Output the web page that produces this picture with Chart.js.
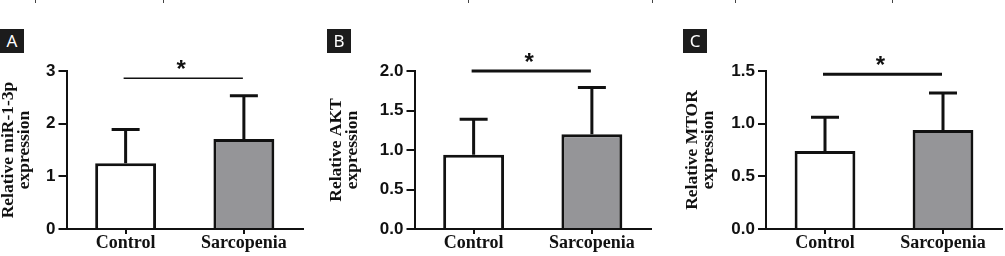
<!DOCTYPE html>
<html>
<head>
<meta charset="utf-8">
<script src="https://cdn.jsdelivr.net/npm/chart.js@4.4.0/dist/chart.umd.min.js"></script>
<style>
body { margin: 0; background: #fff; width: 1005px; height: 256px; overflow: hidden; position: relative; }
canvas { position: absolute; top: 0; }
.tag { position: absolute; top: 29px; width: 24px; height: 24px; background: #1c1c1c; color: #fff;
       font: 17px "Noto Sans", sans-serif; text-align: center; line-height: 24px; }
.mark { position: absolute; top: 0; width: 1px; height: 3px; background: #444; }
</style>
</head>
<body>
<div class="mark" style="left:35px"></div>
<div class="mark" style="left:163px"></div>
<div class="mark" style="left:468px"></div>
<div class="mark" style="left:652px"></div>
<div class="mark" style="left:735px"></div>
<div class="mark" style="left:892px"></div>

<canvas id="panelA" width="330" height="256" style="left:0px"></canvas>
<canvas id="panelB" width="345" height="256" style="left:320px"></canvas>
<canvas id="panelC" width="340" height="256" style="left:665px"></canvas>

<div class="tag" style="left:0px">A</div>
<div class="tag" style="left:327px">B</div>
<div class="tag" style="left:683px">C</div>

<script>
const categories = ['Control', 'Sarcopenia'];

// bar heights (mean) and error bar tops (mean + SD)
const mirMeans = [1.25, 1.71];
const mirErrTops = [1.89, 2.53];
const aktMeans = [0.94, 1.20];
const aktErrTops = [1.39, 1.79];
const mtorMeans = [0.74, 0.94];
const mtorErrTops = [1.06, 1.29];

// y axis ticks
const mirTicks = [0, 1, 2, 3];
const aktTicks = [0, 0.5, 1.0, 1.5, 2.0];
const mtorTicks = [0, 0.5, 1.0, 1.5];

// height of the significance bracket in each panel
const sigLevels = [2.86, 2.0, 1.47];

const barFill = ['#ffffff', '#959598'];
const serif = '"Liberation Serif", "Times New Roman", serif';
const sans = '"Liberation Sans", Arial, sans-serif';

const errorBars = {
    id: 'errorBars',
    afterDatasetsDraw(chart, args, opts) {
        const {ctx, scales: {x, y}} = chart;
        const meta = chart.getDatasetMeta(0);
        ctx.save();
        ctx.strokeStyle = '#111';
        ctx.lineWidth = 3;
        meta.data.forEach((bar, i) => {
            const top = y.getPixelForValue(opts.tops[i]);
            ctx.beginPath();
            ctx.moveTo(bar.x, bar.y);
            ctx.lineTo(bar.x, top);
            ctx.moveTo(bar.x - 14, top);
            ctx.lineTo(bar.x + 14, top);
            ctx.stroke();
        });
        // significance line + star
        const ly = y.getPixelForValue(opts.sig);
        const x0 = x.getPixelForValue(0) - 2;
        const x1 = x.getPixelForValue(1) - 1;
        ctx.lineWidth = opts.sigWidth;
        ctx.beginPath();
        ctx.moveTo(x0, ly);
        ctx.lineTo(x1, ly);
        ctx.stroke();
        ctx.fillStyle = '#111';
        ctx.font = 'bold 24px ' + sans;
        ctx.textAlign = 'center';
        ctx.textBaseline = 'alphabetic';
        ctx.fillText('*', (x0 + x1) / 2 - 2, ly - 1.5);
        ctx.restore();
    }
};

const makePanel = (id, p) => {
    new Chart(document.getElementById(id), {
        type: 'bar',
        data: {
            labels: categories,
            datasets: [{
                data: p.means,
                backgroundColor: barFill,
                borderColor: '#111',
                borderWidth: 3,
                barPercentage: 0.515,
                categoryPercentage: 1
            }]
        },
        options: {
            responsive: false,
            animation: false,
            events: [],
            layout: {padding: {top: 71, right: p.padRight, bottom: 0, left: 0}},
            plugins: {
                legend: {display: false},
                tooltip: {enabled: false},
                errorBars: {tops: p.tops, sig: p.sig, sigWidth: p.sigWidth}
            },
            scales: {
                x: {
                    afterFit: s => { s.height = 27; },
                    border: {color: '#111', width: 2},
                    grid: {offset: false, drawOnChartArea: false, drawTicks: true, tickLength: 5, color: '#111', lineWidth: 2},
                    ticks: {color: '#111', padding: 0, font: {family: serif, size: 18, weight: 'bold', lineHeight: 1}}
                },
                y: {
                    min: 0,
                    max: p.ticks[p.ticks.length - 1],
                    afterFit: s => { s.width = p.yWidth; },
                    afterBuildTicks: s => { s.ticks = p.ticks.map(v => ({value: v})); },
                    border: {color: '#111', width: 2},
                    grid: {drawOnChartArea: false, drawTicks: true, tickLength: 8, color: '#111', lineWidth: 2},
                    ticks: {
                        color: '#111', padding: 3,
                        font: {family: sans, size: 17, weight: 'bold'},
                        callback: v => p.decimals ? Number(v).toFixed(1) : String(v)
                    },
                    title: {
                        display: true,
                        text: p.title,
                        color: '#111',
                        padding: {top: p.titlePad, bottom: 0},
                        font: {family: serif, size: 17.5, weight: 'bold', lineHeight: '16px'}
                    }
                }
            }
        },
        plugins: [errorBars]
    });
};

makePanel('panelA', {
    means: mirMeans, tops: mirErrTops, ticks: mirTicks, decimals: false,
    sig: sigLevels[0], sigWidth: 1.5, title: ['Relative miR-1-3p', 'expression'],
    yWidth: 66.5, titlePad: 0, padRight: 27
});
makePanel('panelB', {
    means: aktMeans, tops: aktErrTops, ticks: aktTicks, decimals: true,
    sig: sigLevels[1], sigWidth: 3, title: ['Relative AKT', 'expression'],
    yWidth: 94.5, titlePad: 8, padRight: 14
});
makePanel('panelC', {
    means: mtorMeans, tops: mtorErrTops, ticks: mtorTicks, decimals: true,
    sig: sigLevels[2], sigWidth: 3, title: ['Relative MTOR', 'expression'],
    yWidth: 101, titlePad: 19, padRight: 3
});
</script>
</body>
</html>
